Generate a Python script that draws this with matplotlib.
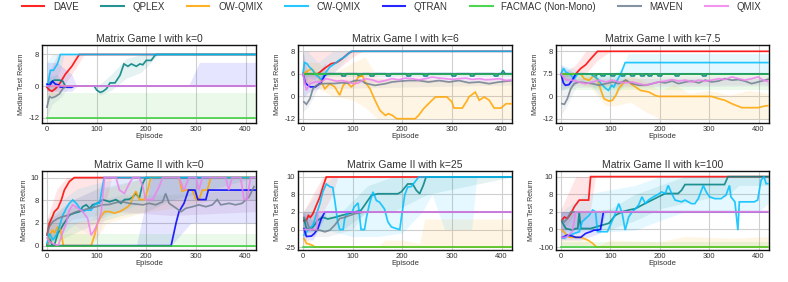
import numpy as np
import matplotlib
matplotlib.use("Agg")
import matplotlib.pyplot as plt
from matplotlib.lines import Line2D

plt.rcParams['font.family'] = ['Liberation Sans', 'DejaVu Sans']

METHODS = ["DAVE", "QPLEX", "OW-QMIX", "CW-QMIX", "QTRAN", "FACMAC (Non-Mono)", "MAVEN", "QMIX"]
COLORS = ["#ff0000", "#008080", "#ffa500", "#00bfff", "#0000ff", "#32cd32", "#708090", "#ee82ee"]

TITLES = ["Matrix Game I with k=0", "Matrix Game I with k=6", "Matrix Game I with k=7.5",
          "Matrix Game II with k=0", "Matrix Game II with k=25", "Matrix Game II with k=100"]
YTICKS_A = [-12, 0, 8]
YTICKS_B = [-12, 0, 6, 8]
YTICKS_C = [-12, 0, 7.5, 8]
YTICKS_D = [0, 2, 8, 10]
YTICKS_E = [-25, 0, 2, 8, 10]
YTICKS_F = [-100, 0, 2, 8, 10]
XTICKS = [0, 100, 200, 300, 400]

# ---------------- Panel A: Matrix Game I, k=0 ----------------
A_DAVE_x = [0, 5, 10, 17, 25, 37, 50, 65, 420]
A_DAVE_y = [-0.5, -1.5, -2, -1, 0.5, 3, 5, 8, 8]
A_DAVE_bx = [0, 10, 20, 30, 45, 60, 75, 420]
A_DAVE_lo = [-3, -4, -3, -1, 2, 5, 8, 8]
A_DAVE_hi = [3, 5, 8, 8, 8, 8, 8, 8]
A_QPLEX_x = [0, 8, 15, 25, 32, 37, 95, 100, 107, 113, 120, 127, 137, 147, 155, 163, 170, 180, 187, 193, 200, 210, 217, 220, 420]
A_QPLEX_y = [0, 1, 1.5, 1.5, 1.2, 0, 0, -1.5, -2.4, -2, -1, 0.8, 0.8, 2.7, 5.6, 5.0, 5.6, 5.0, 5.6, 5.4, 6.5, 6.5, 7.7, 8, 8]
A_QPLEX_bx = [0, 20, 40, 95, 107, 130, 160, 190, 225, 420]
A_QPLEX_lo = [-2, -1, 0, 0, -3.5, -1.5, 2, 3.5, 8, 8]
A_QPLEX_hi = [2, 3, 0, 0, 0.5, 3, 7, 8, 8, 8]
A_OW_x = [0, 420]
A_OW_y = [0, 0]
A_CW_x = [0, 2, 7, 13, 21, 27, 420]
A_CW_y = [0, 0.5, 4, 4, 5.6, 8, 8]
A_CW_bx = [0, 10, 27, 35, 420]
A_CW_lo = [-1, 0, 4, 8, 8]
A_CW_hi = [6, 8, 8, 8, 8]
A_QTRAN_x = [0, 5, 11, 17, 23, 27, 35, 49, 55, 420]
A_QTRAN_y = [0.5, 0, 1.2, 0.5, 0.3, -0.4, -0.4, -0.5, 0, 0]
A_QTRAN_bx = [0, 20, 50, 60, 285, 307, 420]
A_QTRAN_lo = [-2, -2, -2, 0, 0, 0, 0]
A_QTRAN_hi = [6, 6, 3, 0, 0, 6, 6]
A_FACMAC_x = [0, 420]
A_FACMAC_y = [-12, -12]
A_FACMAC_bx = [0, 420]
A_FACMAC_lo = [-12, -12]
A_FACMAC_hi = [-2.7, -2.7]
A_MAVEN_x = [0, 5, 10, 17, 25, 32, 40, 420]
A_MAVEN_y = [-8, -4, -4.5, -4, -3, -1, 0, 0]
A_MAVEN_bx = [0, 10, 30, 45, 420]
A_MAVEN_lo = [-12, -7, -4, 0, 0]
A_MAVEN_hi = [0, 0, 0, 0, 0]
A_QMIX_x = [0, 420]
A_QMIX_y = [0, 0]

# ---------------- Panel B: Matrix Game I, k=6 ----------------
B_DAVE_x = [0, 30, 44, 57, 68, 78, 91, 99, 420]
B_DAVE_y = [6, 6, 6.5, 6.9, 7, 7.3, 7.8, 8, 8]
B_DAVE_bx = [0, 30, 60, 100, 120, 420]
B_DAVE_lo = [3, 5, 6, 7.5, 8, 8]
B_DAVE_hi = [8, 8, 8, 8, 8, 8]
B_QPLEX_x = [0, 76, 79, 85, 88, 109, 112, 118, 121, 133, 136, 142, 145, 166, 169, 175, 178,
             207, 210, 216, 219, 241, 244, 250, 253, 298, 301, 307, 310, 335, 338, 344, 347,
             383, 386, 392, 395, 399, 403, 407, 420]
B_QPLEX_y = [6, 6, 5.4, 5.4, 6, 6, 5.4, 5.4, 6, 6, 5.4, 5.4, 6, 6, 5.4, 5.4, 6,
             6, 5.4, 5.4, 6, 6, 5.4, 5.4, 6, 6, 5.4, 5.4, 6, 6, 5.4, 5.4, 6,
             6, 5.4, 5.4, 6, 6, 6.3, 6, 6]
B_QPLEX_bx = [0, 420]
B_QPLEX_lo = [5.2, 5.2]
B_QPLEX_hi = [6, 6]
B_OW_x = [0, 17, 24, 30, 44, 54, 64, 74, 81, 88, 97, 105, 111, 120, 125, 135, 145, 155, 166, 172,
          180, 189, 226, 233, 243, 260, 267, 290, 300, 304, 321, 331, 334, 347, 355, 365, 375, 385, 399, 409, 422]
B_OW_y = [6, 6.45, 6.1, 5.6, 2.0, 3.35, 2.5, 0.3, 2.9, 3.8, 2.5, 3.4, 5.1, 5.5, 3.8, 2.0, -2.1, -7.5, -10.2, -9.3,
          -10.2, -12, -12, -10.2, -6.6, -2.1, -0.4, -0.4, -3, -6.3, -6.3, -2.1, -0.4, 1.1, -2.1, -0.4, -2.1, -6.3, -6.3, -4, -4]
B_OW_bx = [0, 30, 60, 100, 125, 150, 200, 250, 300, 340, 420]
B_OW_lo = [4, 2, 0, -2, -6, -12, -12, -12, -12, -12, -12]
B_OW_hi = [7, 7, 6, 7, 7.5, 5, 4, 4.5, 4, 4, 4]
B_CW_x = [0, 3, 8, 13, 20, 24, 30, 37, 44, 54, 64, 74, 84, 97, 420]
B_CW_y = [6, 7, 6.9, 6.6, 6.3, 6, 5.3, 4.5, 6, 6.6, 6.9, 7.25, 7.5, 8, 8]
B_CW_bx = [0, 10, 30, 60, 100, 420]
B_CW_lo = [3, 5, 4, 6, 8, 8]
B_CW_hi = [8, 8, 7, 8, 8, 8]
B_QTRAN_x = [0, 5, 10, 15, 25, 30, 37, 44, 50, 420]
B_QTRAN_y = [6, 3.5, 2.9, 2.5, 2.5, 3, 3.8, 5.6, 6, 6]
B_QTRAN_bx = [0, 10, 30, 45]
B_QTRAN_lo = [-1, 1, 2, 5]
B_QTRAN_hi = [8, 6, 6, 7]
B_FACMAC_x = [0, 420]
B_FACMAC_y = [6, 6]
B_MAVEN_x = [2, 7, 14, 20, 27, 37, 51, 64, 78, 91, 105, 118, 125, 145, 166, 179, 193, 213, 233, 253,
             274, 294, 314, 334, 355, 375, 395, 409, 422]
B_MAVEN_y = [-3, -4.3, -1.4, 2, 2.9, 3.35, 3.4, 3.4, 3.6, 3.5, 4.2, 4.2, 3.5, 2.9, 3.35, 3.8, 4, 4.2, 4.2, 3.8,
             4.2, 3.8, 4.2, 3.6, 3.8, 3.35, 3.8, 4, 4.2]
B_MAVEN_bx = [0, 10, 30, 420]
B_MAVEN_lo = [-8, -6, 2, 3]
B_MAVEN_hi = [7, 4, 4.5, 4.8]
B_QMIX_x = [0, 7, 14, 24, 35, 47, 57, 68, 78, 91, 101, 111, 125, 139, 152, 166, 179, 193, 206, 220,
            233, 247, 260, 274, 287, 301, 314, 328, 341, 355, 368, 382, 395, 409, 422]
B_QMIX_y = [6, 1.6, 3.35, 3.8, 3.8, 4.7, 4.4, 4.0, 4.2, 3.8, 3.35, 3.5, 4.7, 4.4, 3.8, 4.2, 4.7, 4.4, 4.85, 4.7,
            4.4, 4.7, 5.1, 4.85, 4.7, 4.5, 4.7, 4.85, 4.5, 4.7, 4.4, 4.5, 4.7, 4.2, 4.4]
B_QMIX_bx = [0, 420]
B_QMIX_lo = [3.5, 4]
B_QMIX_hi = [5.5, 5.2]

# ---------------- Panel C: Matrix Game I, k=7.5 ----------------
C_DAVE_x = [0, 30, 40, 50, 60, 74, 420]
C_DAVE_y = [7.5, 7.5, 7.62, 7.7, 7.83, 8, 8]
C_DAVE_bx = [0, 30, 50, 74, 100, 420]
C_DAVE_lo = [6, 7.5, 7.5, 7.8, 8, 8]
C_DAVE_hi = [7.5, 7.7, 8, 8, 8, 8]
C_QPLEX_x = [0, 62, 65, 71, 74, 79, 82, 88, 91, 99, 102, 108, 111, 119, 122, 128, 131, 139, 142, 148, 151,
             159, 162, 168, 171, 174, 177, 183, 186, 194, 197, 203, 206, 229, 232, 238, 241, 284, 287, 293, 296, 420]
C_QPLEX_y = [7.5, 7.5, 6.8, 6.8, 7.5, 7.5, 6.8, 6.8, 7.5, 7.5, 6.8, 6.8, 7.5, 7.5, 6.8, 6.8, 7.5, 7.5, 6.8, 6.8, 7.5,
             7.5, 6.8, 6.8, 7.5, 7.5, 6.8, 6.8, 7.5, 7.5, 6.8, 6.8, 7.5, 7.5, 6.8, 6.8, 7.5, 7.5, 6.8, 6.8, 7.5, 7.5]
C_OW_x = [0, 40, 47, 57, 67, 74, 81, 87, 97, 104, 111, 117, 131, 141, 151, 161, 178, 191, 198, 305,
          319, 332, 346, 366, 399, 413, 423]
C_OW_y = [7.5, 7.5, 5.9, 5.4, 7.0, 5.4, 2.0, -1.2, -2.5, -2.1, 0.3, 2.6, 5.4, 4.25, 3.1, 2.0, 1.45, 0.3, 0, 0,
          -1.2, -2.1, -3.9, -6, -6, -5.1, -4.8]
C_OW_bx = [0, 60, 90, 110, 140, 170, 200, 230, 260, 300, 340, 380, 420]
C_OW_lo = [6, 3, -5, -5, -3, -8, -12, -12, -12, -12, -12, -12, -12]
C_OW_hi = [7.5, 7.5, 5, 4, 7, 5, 2, 4, 1, 2, 0.5, 2, 1]
C_CW_x = [0, 5, 10, 17, 27, 34, 60, 74, 81, 91, 96, 103, 107, 114, 121, 130, 420]
C_CW_y = [7.5, 7.62, 7.54, 7.5, 5.9, 7.5, 7.5, 5.9, 4.25, 2.6, 2.0, 3.7, 3.1, 5.4, 7.5, 7.75, 7.75]
C_CW_bx = [0, 30, 60, 80, 100, 125, 135, 420]
C_CW_lo = [5, 5, 4, 0, -2, 3, 7.5, 7.5]
C_CW_hi = [7.7, 7.6, 7.5, 7.5, 7.5, 7.6, 7.95, 7.95]
C_QTRAN_x = [0, 5, 9, 16, 23, 30, 420]
C_QTRAN_y = [7.5, 4.5, 3.7, 3.9, 5.4, 7.5, 7.5]
C_QTRAN_bx = [0, 30]
C_QTRAN_lo = [2, 4]
C_QTRAN_hi = [7.7, 7.5]
C_FACMAC_x = [0, 420]
C_FACMAC_y = [7.5, 7.5]
C_FACMAC_bx = [0, 420]
C_FACMAC_lo = [2, 2]
C_FACMAC_hi = [7.5, 7.5]
C_MAVEN_x = [2, 7, 13, 20, 27, 37, 50, 64, 77, 91, 104, 117, 131, 144, 158, 171, 185, 198, 211, 225,
             238, 252, 265, 279, 292, 305, 319, 332, 346, 359, 372, 386, 399, 413, 423]
C_MAVEN_y = [-3.9, -4.2, -1.2, 2.6, 4.25, 4.8, 4.5, 4.25, 3.7, 4.25, 4.8, 4.25, 5.4, 4.25, 3.7, 3.7, 4.25, 4.8, 4.5, 5.1,
             4.25, 4.8, 5.1, 4.5, 5.4, 4.8, 5.1, 5.9, 5.4, 5.6, 5.1, 4.25, 4.8, 5.4, 5.9]
C_MAVEN_bx = [0, 10, 30, 420]
C_MAVEN_lo = [-10, -6, 3, 3.5]
C_MAVEN_hi = [7.6, 7.5, 6, 6]
C_QMIX_x = [0, 7, 13, 23, 37, 50, 64, 77, 91, 104, 117, 131, 144, 158, 171, 185, 198, 211, 225, 238,
            252, 265, 279, 292, 305, 319, 332, 346, 359, 372, 386, 399, 409, 423]
C_QMIX_y = [7.5, 5.9, 5.4, 5.4, 4.8, 4.25, 4.8, 5.4, 4.8, 5.4, 4.8, 4.5, 4.8, 4.25, 3.7, 4.25, 4.8, 5.1, 5.6, 5.1,
            5.4, 4.8, 5.4, 5.1, 5.4, 5.9, 5.6, 6.5, 5.9, 5.4, 5.9, 6.5, 5.4, 4.8]
C_QMIX_bx = [0, 420]
C_QMIX_lo = [3.5, 4]
C_QMIX_hi = [6.5, 6.8]

# ---------------- Panel D: Matrix Game II, k=0 ----------------
D_DAVE_x = [0, 5, 11, 15, 22, 29, 35, 45, 55, 420]
D_DAVE_y = [0.95, 1.97, 3.7, 5, 5.9, 8.03, 8.9, 9.65, 10, 10]
D_DAVE_bx = [0, 20, 40, 60, 120, 130, 420]
D_DAVE_lo = [0, 1, 3, 6, 8, 10, 10]
D_DAVE_hi = [3, 9, 10, 10, 10, 10, 10]
D_QPLEX_x = [0, 5, 11, 15, 22, 27, 32, 39, 45, 55, 66, 72, 79, 86, 92, 102, 112, 126, 139, 149,
             156, 166, 173, 179, 186, 193, 199, 420]
D_QPLEX_y = [0.06, 0.65, 0, 0.06, 1.1, 1.4, 1.8, 2.8, 4.1, 4.6, 5.0, 6.3, 6.8, 5.9, 6.8, 7.2, 8.06, 7.6, 8.06, 7.2,
             8.06, 8.1, 8.3, 8.6, 8.2, 9.5, 10, 10]
D_QPLEX_bx = [0, 50, 100, 150, 200, 250, 420]
D_QPLEX_lo = [0, 1, 2, 4, 5, 8, 10]
D_QPLEX_hi = [3, 8, 9, 9.5, 10, 10, 10]
D_OW_x = [0, 5, 11, 15, 22, 27, 31, 33, 89, 96, 102, 109, 116, 126, 136, 146, 152, 163, 169, 173,
          179, 186, 196, 203, 209, 266, 272, 280, 293, 300, 306, 313, 323, 330, 420]
D_OW_y = [0, 0.8, 1.4, 1.1, 1.7, 1.4, 0.5, 0, 0, 0.94, 2, 3.7, 5, 5, 4.6, 5, 5.4, 6.3, 7.2, 8.3,
          8.8, 8.06, 8.06, 8.9, 10, 10, 8.8, 8.9, 8.9, 8.06, 8.06, 8.9, 8.9, 10, 10]
D_OW_bx = [0, 40, 90, 120, 200, 260, 330, 420]
D_OW_lo = [0, 0, 0, 2, 5, 6, 8, 8]
D_OW_hi = [2, 2, 3, 9, 10, 10, 10, 10]
D_CW_x = [0, 5, 12, 19, 25, 32, 39, 45, 52, 59, 66, 72, 79, 89, 96, 100, 106, 115, 420]
D_CW_y = [0.2, 1.1, 0.5, 0.95, 1.7, 4.1, 5.9, 7.2, 8.03, 7.2, 5.9, 5.0, 5.4, 5.4, 6.8, 7.2, 7.2, 10, 10]
D_CW_bx = [0, 30, 60, 100, 150, 200, 420]
D_CW_lo = [0, 1, 2, 3, 5, 8, 8]
D_CW_hi = [2, 8, 9, 9.5, 10, 10, 10]
D_QTRAN_x = [0, 250, 260, 266, 276, 285, 298, 304, 320, 325, 420]
D_QTRAN_y = [0, 0, 2, 5, 7.2, 8.9, 8.9, 8.06, 8.06, 8.9, 8.9]
D_QTRAN_bx = [0, 180, 210, 250, 290, 420]
D_QTRAN_lo = [0, 0, 0, 0, 2, 2]
D_QTRAN_hi = [0, 0, 10, 10, 10, 10]
D_FACMAC_x = [0, 420]
D_FACMAC_y = [0, 0]
D_FACMAC_bx = [0, 420]
D_FACMAC_lo = [0, 0]
D_FACMAC_hi = [1, 1]
D_MAVEN_x = [0, 5, 12, 22, 32, 45, 59, 72, 86, 99, 112, 126, 139, 152, 166, 179, 193, 206, 219, 233,
             239, 246, 256, 270, 280, 293, 306, 320, 333, 343, 350, 367, 380, 393, 407, 417]
D_MAVEN_y = [0.94, 1.7, 2.35, 3.2, 3.7, 4.1, 5.0, 5.4, 5.9, 6.3, 6.8, 6.9, 7.4, 7.6, 7.2, 7.0, 6.8, 7.2, 6.8, 7.6,
             8.6, 7.2, 6.3, 5, 5.9, 6.3, 6.8, 6.3, 6.8, 8.06, 6.8, 7.2, 6.8, 7.2, 8.3, 9.2]
D_MAVEN_bx = [0, 50, 150, 250, 420]
D_MAVEN_lo = [0, 3, 5, 4, 5]
D_MAVEN_hi = [3, 6, 8.5, 8.5, 9]
D_QMIX_x = [0, 5, 12, 19, 23, 32, 39, 45, 52, 62, 72, 82, 89, 96, 102, 109, 116, 139, 146, 156,
            166, 173, 186, 193, 199, 213, 219, 226, 233, 266, 276, 286, 300, 306, 313, 360, 366, 373, 390, 397,
            403, 410, 420]
D_QMIX_y = [0.7, 0.35, 0.2, 0.06, 0.06, 1.2, 2, 5.4, 6.8, 5.9, 5, 3.2, 0.94, 1.4, 2, 4.6, 10, 10, 8.9, 8.6,
            9.5, 10, 10, 9.2, 8.06, 8.06, 8.6, 9.2, 10, 10, 8.9, 10, 10, 8.9, 10, 10, 8.9, 10, 10, 8.06,
            8.06, 10, 10]
D_QMIX_bx = [0, 50, 100, 120, 250, 420]
D_QMIX_lo = [0, 2, 0.5, 5, 4, 5]
D_QMIX_hi = [2, 8, 9, 10, 10, 10]

# ---------------- Panel E: Matrix Game II, k=25 ----------------
E_DAVE_x = [2, 7, 11, 15, 20, 27, 34, 40, 47, 420]
E_DAVE_y = [1.0, 1.06, 1.6, 1.4, 1.8, 4.3, 7.1, 8.85, 10, 10]
E_DAVE_bx = [0, 20, 40, 60, 70, 420]
E_DAVE_lo = [-5, 0, 2, 8, 10, 10]
E_DAVE_hi = [2, 8, 10, 10, 10, 10]
E_QPLEX_x = [2, 7, 17, 23, 30, 40, 50, 65, 77, 91, 104, 117, 124, 131, 138, 151, 191, 198, 211, 221,
             228, 235, 242, 248, 420]
E_QPLEX_y = [1.25, 0.1, 0.1, 0.5, 1.06, 1.4, 1.2, 1.4, 1.6, 1.8, 2, 2.6, 4.3, 6, 7.7, 8.08, 8.08, 8.3, 9.2, 9.2,
             8.5, 8.08, 9, 10, 10]
E_QPLEX_bx = [0, 80, 130, 180, 250, 420]
E_QPLEX_lo = [-5, 0, 2, 2, 8, 10]
E_QPLEX_hi = [2, 2.5, 9, 10, 10, 10]
E_OW_x = [2, 7, 13, 20, 23, 420]
E_OW_y = [-12.7, -19.8, -21, -23, -25, -25]
E_OW_bx = [0, 20, 30, 150, 165, 200, 235, 245, 420]
E_OW_lo = [-25, -25, -25, -25, -25, -25, -25, -25, -25]
E_OW_hi = [-10, -20, -25, -25, -15, -15, -20, 1.2, 1.2]
E_CW_x = [2, 10, 20, 34, 40, 47, 54, 60, 64, 70, 74, 81, 84, 91, 99, 103, 111, 117, 124, 128,
          134, 141, 148, 154, 164, 171, 178, 188, 195, 198, 205, 211, 218, 225, 233, 420]
E_CW_y = [-8, -1, 0.5, 4.8, 8.3, 9.2, 8.9, 8.8, 6, 0.87, 0, 0, 1.25, 2, 2, 3.7, 5.1, 0, 0, 1.4,
          4.8, 8.3, 5.9, 5.4, 3.1, 0.87, 0.3, 0.1, 0, 1.25, 7.9, 8.85, 8.9, 9.4, 10, 10]
E_CW_bx = [0, 40, 60, 100, 150, 200, 240, 260, 285, 340, 350, 420]
E_CW_lo = [-5, 0, -3, -10, -10, -5, 2, 8, 0, 0, 10, 10]
E_CW_hi = [2, 9, 10, 10, 10, 10, 10, 10, 10, 10, 10, 10]
E_QTRAN_x = [2, 7, 17, 23, 30, 37, 44, 420]
E_QTRAN_y = [0.1, -10, -9.4, -5.7, 0.1, 1.25, 2, 2]
E_QTRAN_bx = [0, 20, 45]
E_QTRAN_lo = [-15, -15, 1.5]
E_QTRAN_hi = [2, 1, 2]
E_FACMAC_x = [0, 420]
E_FACMAC_y = [-25, -25]
E_MAVEN_x = [2, 7, 13, 23, 34, 44, 54, 64, 74, 84, 94, 104, 114, 124, 420]
E_MAVEN_y = [1.4, 1.06, 0.1, -1, -1, -3.3, -1, 0.5, 1.25, 1.4, 1.6, 1.8, 1.9, 2, 2]
E_MAVEN_bx = [0, 50, 100, 125]
E_MAVEN_lo = [-10, -10, 0, 2]
E_MAVEN_hi = [2, 1.5, 2, 2]
E_QMIX_x = [2, 27, 30, 420]
E_QMIX_y = [0, 0, 2, 2]
E_QMIX_bx = [0, 30, 420]
E_QMIX_lo = [-10, 2, 2]
E_QMIX_hi = [2, 2, 2]

# ---------------- Panel F: Matrix Game II, k=100 ----------------
F_DAVE_x = [2, 7, 13, 20, 27, 37, 47, 56, 60, 420]
F_DAVE_y = [1.06, 1.4, 1.25, 1.8, 3.7, 6, 6, 6, 10, 10]
F_DAVE_bx = [0, 30, 60, 70, 420]
F_DAVE_lo = [-5, 0, 3, 10, 10]
F_DAVE_hi = [3, 10, 10, 10, 10]
F_QPLEX_x = [2, 10, 23, 30, 34, 37, 40, 60, 97, 110, 124, 137, 151, 164, 177, 184, 197, 211, 237, 244,
             251, 331, 338, 420]
F_QPLEX_y = [0.87, 0.1, -3.8, 0.1, 0.1, 2, 0.1, 0.1, 0.7, 1.6, 2, 2.6, 3.1, 4.3, 5.4, 6, 7.1, 8.08, 8.08, 8.45,
             9.1, 9.1, 10, 10]
F_QPLEX_bx = [0, 50, 100, 150, 200, 250, 340, 360, 420]
F_QPLEX_lo = [-20, 0, 0, 1, 3, 5, 8, 9, 9]
F_QPLEX_hi = [2, 2, 3, 8, 9, 10, 10, 10, 10]
F_OW_x = [2, 17, 30, 40, 54, 64, 72, 420]
F_OW_y = [-4, -45, -45, -45, -60, -79, -100, -100]
F_OW_bx = [0, 40, 70, 100, 200, 250, 350, 420]
F_OW_lo = [-100, -100, -100, -100, -100, -100, -100, -100]
F_OW_hi = [-20, -40, -100, -60, -70, -40, -50, -40]
F_CW_x = [2, 7, 17, 27, 37, 43, 50, 57, 64, 70, 74, 84, 94, 100, 110, 117, 124, 130, 137, 144,
          151, 157, 164, 171, 177, 187, 194, 204, 211, 217, 224, 231, 244, 251, 264, 271, 278, 288, 294, 301,
          311, 324, 334, 341, 344, 352, 358, 361, 378, 391, 398, 405, 411, 415, 420]
F_CW_y = [-45, -51, -32, -23, -13, 0.87, 1.25, 1.6, 2.6, 2, -13, -13, -13, 0.5, 1.8, 4.8, 1.8, -3.8, 1.4, 2,
          3.1, 4.3, 7.1, 4.8, 6, 7.1, 7.7, 8.26, 8.08, 9, 8.08, 6, 5.4, 6, 4.8, 4.8, 6.5, 9, 8.26, 7.1,
          6.5, 6.5, 7.7, 9, 7.1, 5.4, -4, 5.4, 5.4, 5.4, 6, 9.6, 10, 9.2, 9.2]
F_CW_bx = [0, 50, 100, 150, 200, 250, 300, 350, 400, 420]
F_CW_lo = [-50, -5, -13, -5, 1, 2, 2, 2, 2, 5]
F_CW_hi = [2, 8, 8.5, 9, 10, 10, 10, 10, 10, 10]
F_QTRAN_x = [3, 13, 23, 30, 40, 50, 60, 67, 74, 80, 86, 420]
F_QTRAN_y = [-45, -32, -38, -45, -45, -23, -13, -4, -4, 0, 2, 2]
F_QTRAN_bx = [0, 40, 80, 90]
F_QTRAN_lo = [-60, -60, -20, 2]
F_QTRAN_hi = [2, 2, 2, 2]
F_FACMAC_x = [0, 420]
F_FACMAC_y = [-100, -100]
F_FACMAC_bx = [0, 420]
F_FACMAC_lo = [-100, -100]
F_FACMAC_hi = [-70, -70]
F_MAVEN_x = [2, 7, 13, 20, 27, 420]
F_MAVEN_y = [1.06, 0.87, 1.25, 2, 2, 2]
F_MAVEN_bx = [0, 30]
F_MAVEN_lo = [-20, 2]
F_MAVEN_hi = [2, 2]
F_QMIX_x = [2, 10, 23, 30, 420]
F_QMIX_y = [-45, -45, -13, 2, 2]
F_QMIX_bx = [0, 30, 420]
F_QMIX_lo = [-60, 2, 2]
F_QMIX_hi = [2, 2, 2]


def S(x, y, bx=None, lo=None, hi=None):
    return dict(x=x, y=y, band=None if bx is None else (bx, lo, hi))


PANELS = [
    dict(ticks=YTICKS_A, lim=(-0.17, 2.3), series=[
        S(A_DAVE_x, A_DAVE_y, A_DAVE_bx, A_DAVE_lo, A_DAVE_hi),
        S(A_QPLEX_x, A_QPLEX_y, A_QPLEX_bx, A_QPLEX_lo, A_QPLEX_hi),
        S(A_OW_x, A_OW_y),
        S(A_CW_x, A_CW_y, A_CW_bx, A_CW_lo, A_CW_hi),
        S(A_QTRAN_x, A_QTRAN_y, A_QTRAN_bx, A_QTRAN_lo, A_QTRAN_hi),
        S(A_FACMAC_x, A_FACMAC_y, A_FACMAC_bx, A_FACMAC_lo, A_FACMAC_hi),
        S(A_MAVEN_x, A_MAVEN_y, A_MAVEN_bx, A_MAVEN_lo, A_MAVEN_hi),
        S(A_QMIX_x, A_QMIX_y)]),
    dict(ticks=YTICKS_B, lim=(-0.19, 3.28), series=[
        S(B_DAVE_x, B_DAVE_y, B_DAVE_bx, B_DAVE_lo, B_DAVE_hi),
        S(B_QPLEX_x, B_QPLEX_y, B_QPLEX_bx, B_QPLEX_lo, B_QPLEX_hi),
        S(B_OW_x, B_OW_y, B_OW_bx, B_OW_lo, B_OW_hi),
        S(B_CW_x, B_CW_y, B_CW_bx, B_CW_lo, B_CW_hi),
        S(B_QTRAN_x, B_QTRAN_y, B_QTRAN_bx, B_QTRAN_lo, B_QTRAN_hi),
        S(B_FACMAC_x, B_FACMAC_y),
        S(B_MAVEN_x, B_MAVEN_y, B_MAVEN_bx, B_MAVEN_lo, B_MAVEN_hi),
        S(B_QMIX_x, B_QMIX_y, B_QMIX_bx, B_QMIX_lo, B_QMIX_hi)]),
    dict(ticks=YTICKS_C, lim=(-0.18, 3.28), series=[
        S(C_DAVE_x, C_DAVE_y, C_DAVE_bx, C_DAVE_lo, C_DAVE_hi),
        S(C_QPLEX_x, C_QPLEX_y),
        S(C_OW_x, C_OW_y, C_OW_bx, C_OW_lo, C_OW_hi),
        S(C_CW_x, C_CW_y, C_CW_bx, C_CW_lo, C_CW_hi),
        S(C_QTRAN_x, C_QTRAN_y, C_QTRAN_bx, C_QTRAN_lo, C_QTRAN_hi),
        S(C_FACMAC_x, C_FACMAC_y, C_FACMAC_bx, C_FACMAC_lo, C_FACMAC_hi),
        S(C_MAVEN_x, C_MAVEN_y, C_MAVEN_bx, C_MAVEN_lo, C_MAVEN_hi),
        S(C_QMIX_x, C_QMIX_y, C_QMIX_bx, C_QMIX_lo, C_QMIX_hi)]),
    dict(ticks=YTICKS_D, lim=(-0.19, 3.29), series=[
        S(D_DAVE_x, D_DAVE_y, D_DAVE_bx, D_DAVE_lo, D_DAVE_hi),
        S(D_QPLEX_x, D_QPLEX_y, D_QPLEX_bx, D_QPLEX_lo, D_QPLEX_hi),
        S(D_OW_x, D_OW_y, D_OW_bx, D_OW_lo, D_OW_hi),
        S(D_CW_x, D_CW_y, D_CW_bx, D_CW_lo, D_CW_hi),
        S(D_QTRAN_x, D_QTRAN_y, D_QTRAN_bx, D_QTRAN_lo, D_QTRAN_hi),
        S(D_FACMAC_x, D_FACMAC_y, D_FACMAC_bx, D_FACMAC_lo, D_FACMAC_hi),
        S(D_MAVEN_x, D_MAVEN_y, D_MAVEN_bx, D_MAVEN_lo, D_MAVEN_hi),
        S(D_QMIX_x, D_QMIX_y, D_QMIX_bx, D_QMIX_lo, D_QMIX_hi)]),
    dict(ticks=YTICKS_E, lim=(-0.17, 4.34), series=[
        S(E_DAVE_x, E_DAVE_y, E_DAVE_bx, E_DAVE_lo, E_DAVE_hi),
        S(E_QPLEX_x, E_QPLEX_y, E_QPLEX_bx, E_QPLEX_lo, E_QPLEX_hi),
        S(E_OW_x, E_OW_y, E_OW_bx, E_OW_lo, E_OW_hi),
        S(E_CW_x, E_CW_y, E_CW_bx, E_CW_lo, E_CW_hi),
        S(E_QTRAN_x, E_QTRAN_y, E_QTRAN_bx, E_QTRAN_lo, E_QTRAN_hi),
        S(E_FACMAC_x, E_FACMAC_y),
        S(E_MAVEN_x, E_MAVEN_y, E_MAVEN_bx, E_MAVEN_lo, E_MAVEN_hi),
        S(E_QMIX_x, E_QMIX_y, E_QMIX_bx, E_QMIX_lo, E_QMIX_hi)]),
    dict(ticks=YTICKS_F, lim=(-0.17, 4.32), series=[
        S(F_DAVE_x, F_DAVE_y, F_DAVE_bx, F_DAVE_lo, F_DAVE_hi),
        S(F_QPLEX_x, F_QPLEX_y, F_QPLEX_bx, F_QPLEX_lo, F_QPLEX_hi),
        S(F_OW_x, F_OW_y, F_OW_bx, F_OW_lo, F_OW_hi),
        S(F_CW_x, F_CW_y, F_CW_bx, F_CW_lo, F_CW_hi),
        S(F_QTRAN_x, F_QTRAN_y, F_QTRAN_bx, F_QTRAN_lo, F_QTRAN_hi),
        S(F_FACMAC_x, F_FACMAC_y, F_FACMAC_bx, F_FACMAC_lo, F_FACMAC_hi),
        S(F_MAVEN_x, F_MAVEN_y, F_MAVEN_bx, F_MAVEN_lo, F_MAVEN_hi),
        S(F_QMIX_x, F_QMIX_y, F_QMIX_bx, F_QMIX_lo, F_QMIX_hi)]),
]


def piecewise_scale(ticks):
    t = np.asarray(ticks, float)
    idx = np.arange(len(t), dtype=float)

    def fwd(v):
        v = np.asarray(v, float)
        out = np.interp(v, t, idx)
        out = np.where(v < t[0], (v - t[0]) / (t[1] - t[0]), out)
        out = np.where(v > t[-1], idx[-1] + (v - t[-1]) / (t[-1] - t[-2]), out)
        return out

    def inv(p):
        p = np.asarray(p, float)
        out = np.interp(p, idx, t)
        out = np.where(p < 0, t[0] + p * (t[1] - t[0]), out)
        out = np.where(p > idx[-1], t[-1] + (p - idx[-1]) * (t[-1] - t[-2]), out)
        return out

    return fwd, inv


W, H = 788, 282
fig = plt.figure(figsize=(W / 100, H / 100), dpi=100)

col_left = [42, 298, 556]
col_w = [214, 214, 213]
rows = [(45, 123), (171, 250)]

TXT = '#333333'
for i, P in enumerate(PANELS):
    r, c = divmod(i, 3)
    top, bot = rows[r]
    ax = fig.add_axes([col_left[c] / W, 1 - bot / H, col_w[c] / W, (bot - top) / H])
    fwd, inv = piecewise_scale(P['ticks'])
    ax.set_yscale('function', functions=(fwd, inv))
    for k, s in enumerate(P['series']):
        col = COLORS[k]
        if s['band'] is not None:
            bx, lo, hi = s['band']
            ax.fill_between(bx, lo, hi, color=col, alpha=0.1, lw=0, zorder=1 + k * 0.01)
        ax.plot(s['x'], s['y'], color=col, lw=1.25, alpha=0.85, zorder=3 + k * 0.01,
                solid_joinstyle='miter')
    ax.set_xlim(-10, 421)
    ax.set_ylim(inv(P['lim'][0]), inv(P['lim'][1]))
    ax.set_yticks(P['ticks'])
    ax.set_yticklabels([('%g' % v) for v in P['ticks']])
    ax.yaxis.set_minor_locator(matplotlib.ticker.NullLocator())
    ax.set_xticks(XTICKS)
    ax.grid(True, color='#cfcfcf', lw=0.8, zorder=0)
    ax.set_axisbelow(True)
    ax.tick_params(length=0, labelsize=5.5, pad=2, colors=TXT)
    for sp in ax.spines.values():
        sp.set_color('#111111')
        sp.set_linewidth(1.0)
    ax.set_title(TITLES[i], fontsize=7.5, color=TXT, pad=2.5)
    ax.set_xlabel('Episode', fontsize=5.5, color=TXT, labelpad=0.5)
    ax.set_ylabel('Median Test Return', fontsize=5, color=TXT, labelpad=2)

handles = [Line2D([0], [0], color=c, lw=1.5, alpha=0.85) for c in COLORS]
leg = fig.legend(handles, METHODS, loc='upper center', bbox_to_anchor=(0.497, 1.025), ncol=8,
                 frameon=False, fontsize=7, handlelength=2.3, handletextpad=0.9, columnspacing=2.3)
for t in leg.get_texts():
    t.set_color(TXT)

fig.savefig('out.png', dpi=100)
